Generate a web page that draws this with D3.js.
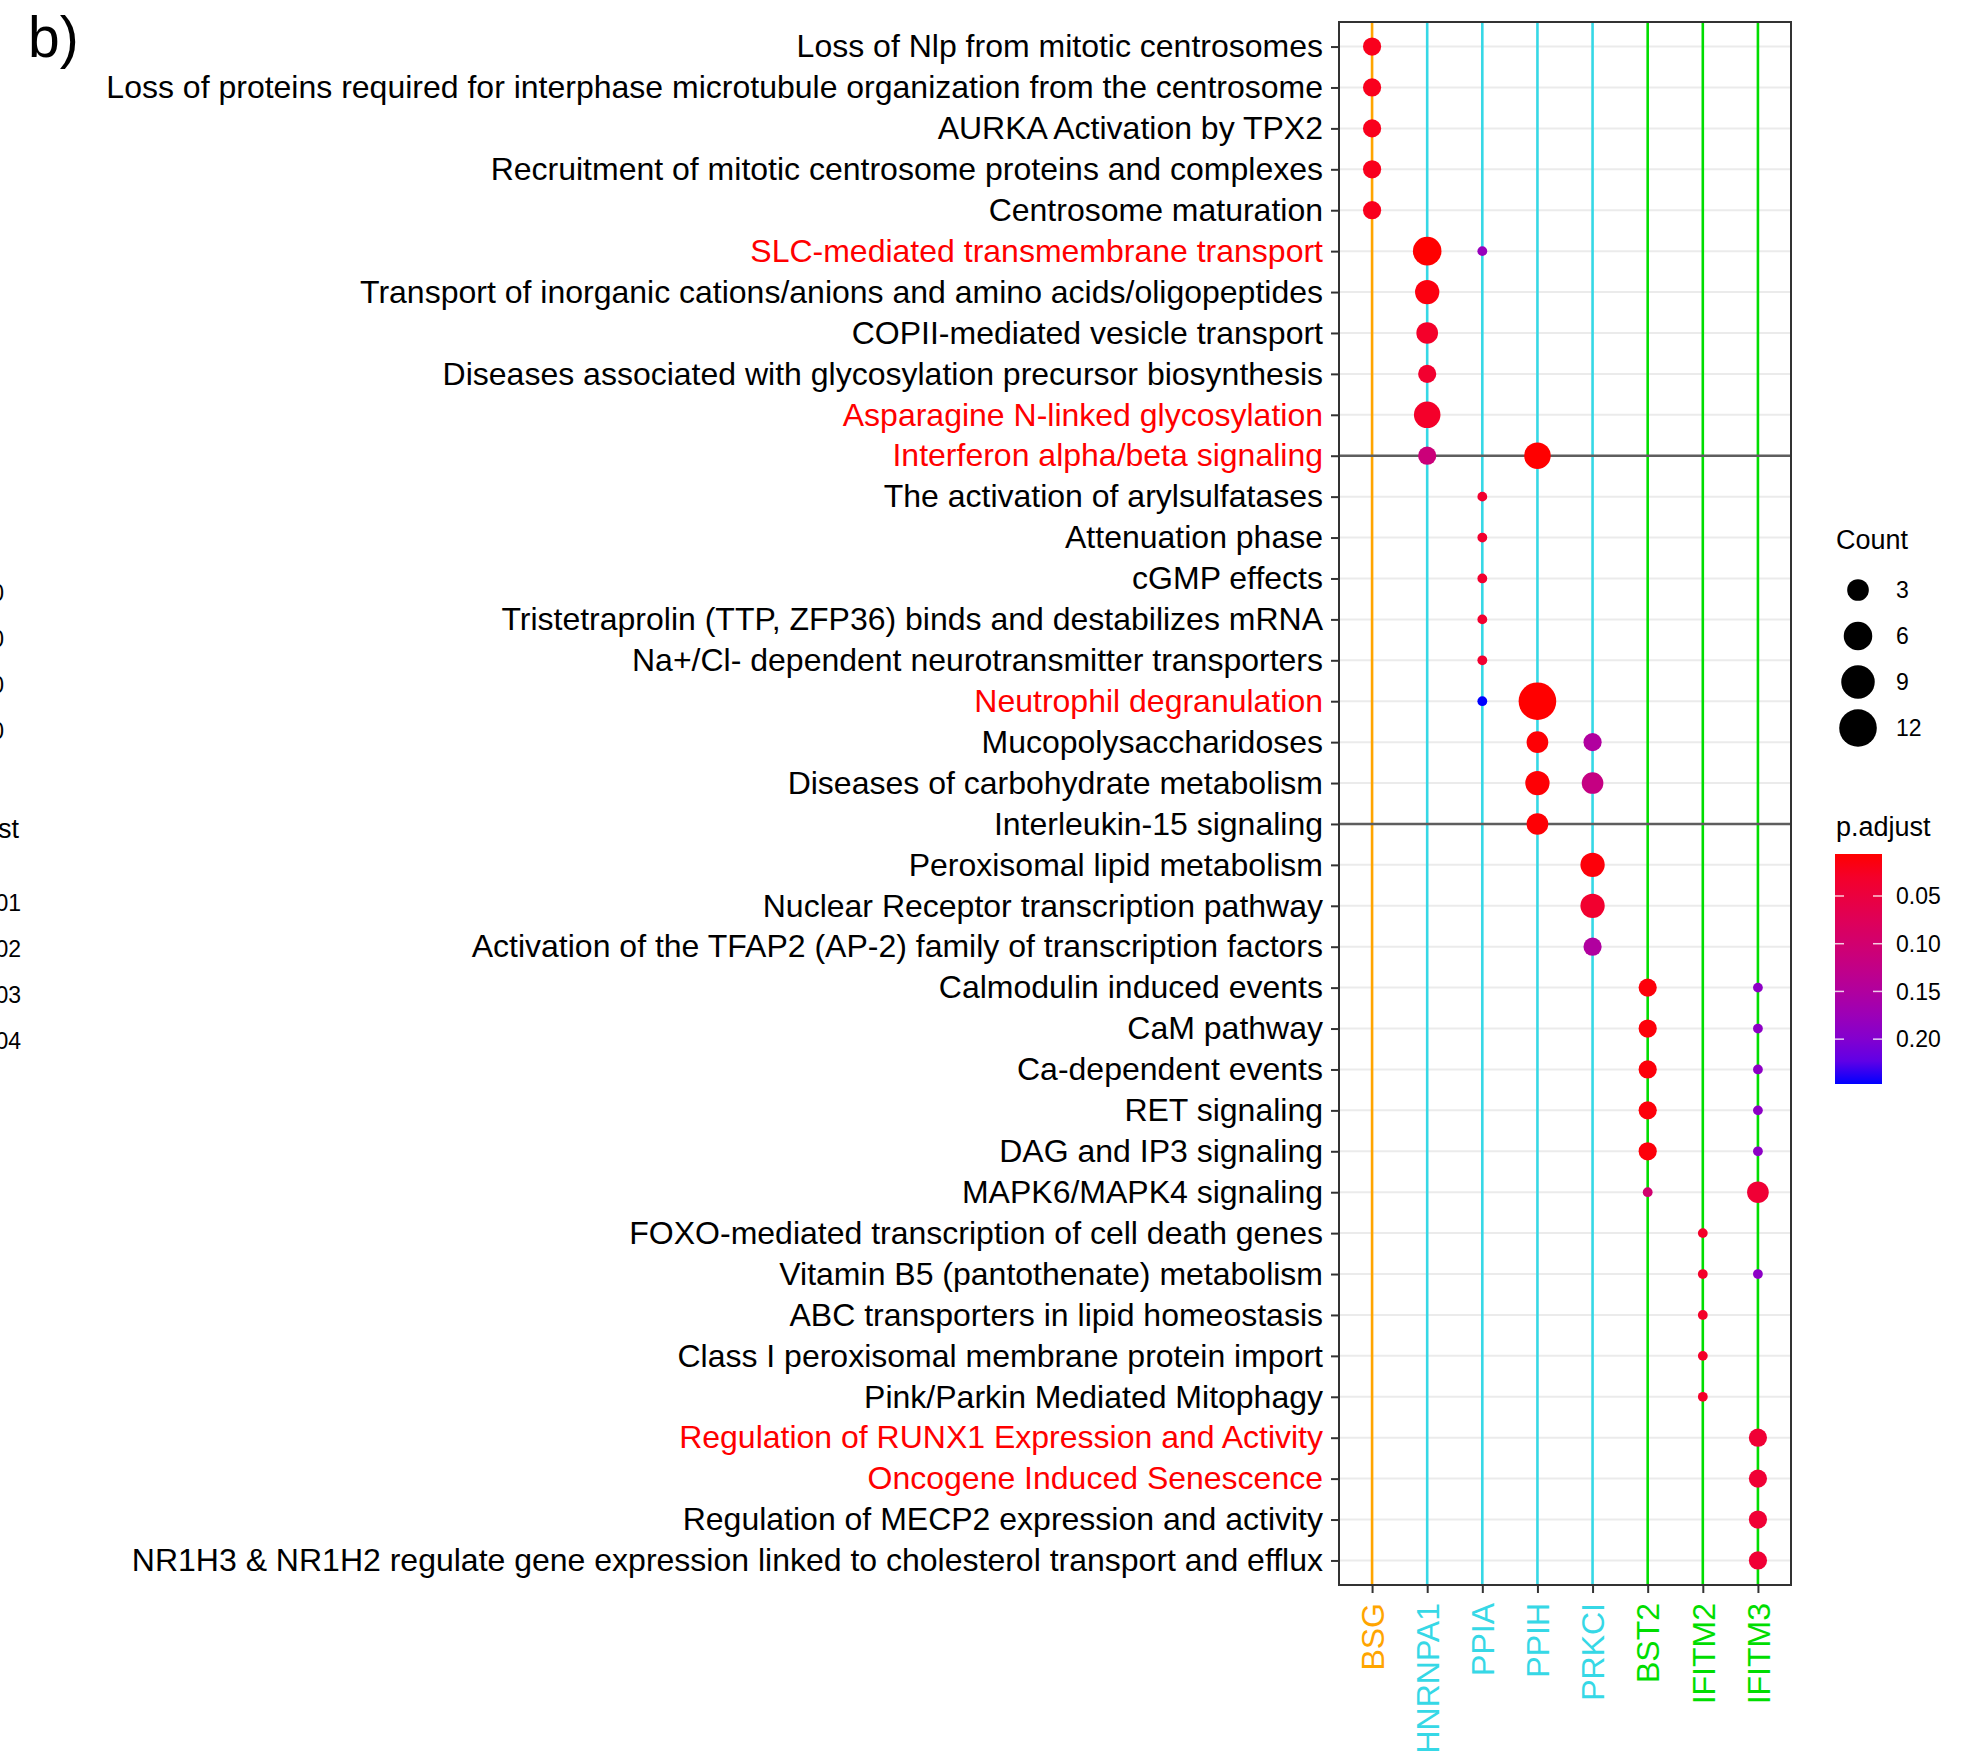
<!DOCTYPE html>
<html>
<head>
<meta charset="utf-8">
<script src="https://cdn.jsdelivr.net/npm/d3@7"></script>
<style>
  body { margin: 0; background: #fff; }
  text { font-family: "Liberation Sans", Arial, sans-serif; }
</style>
</head>
<body>
<script>
// genes on the x axis and the colour of each gene group
var genes = ["BSG", "HNRNPA1", "PPIA", "PPIH", "PRKCI", "BST2", "IFITM2", "IFITM3"];
var geneColors = ["#FFA500", "#36D8E6", "#36D8E6", "#36D8E6", "#36D8E6", "#00DD00", "#00DD00", "#00DD00"];

// reactome pathways, top to bottom
var pathways = [
  "Loss of Nlp from mitotic centrosomes",
  "Loss of proteins required for interphase microtubule organization from the centrosome",
  "AURKA Activation by TPX2",
  "Recruitment of mitotic centrosome proteins and complexes",
  "Centrosome maturation",
  "SLC-mediated transmembrane transport",
  "Transport of inorganic cations/anions and amino acids/oligopeptides",
  "COPII-mediated vesicle transport",
  "Diseases associated with glycosylation precursor biosynthesis",
  "Asparagine N-linked glycosylation",
  "Interferon alpha/beta signaling",
  "The activation of arylsulfatases",
  "Attenuation phase",
  "cGMP effects",
  "Tristetraprolin (TTP, ZFP36) binds and destabilizes mRNA",
  "Na+/Cl- dependent neurotransmitter transporters",
  "Neutrophil degranulation",
  "Mucopolysaccharidoses",
  "Diseases of carbohydrate metabolism",
  "Interleukin-15 signaling",
  "Peroxisomal lipid metabolism",
  "Nuclear Receptor transcription pathway",
  "Activation of the TFAP2 (AP-2) family of transcription factors",
  "Calmodulin induced events",
  "CaM pathway",
  "Ca-dependent events",
  "RET signaling",
  "DAG and IP3 signaling",
  "MAPK6/MAPK4 signaling",
  "FOXO-mediated transcription of cell death genes",
  "Vitamin B5 (pantothenate) metabolism",
  "ABC transporters in lipid homeostasis",
  "Class I peroxisomal membrane protein import",
  "Pink/Parkin Mediated Mitophagy",
  "Regulation of RUNX1 Expression and Activity",
  "Oncogene Induced Senescence",
  "Regulation of MECP2 expression and activity",
  "NR1H3 & NR1H2 regulate gene expression linked to cholesterol transport and efflux"
];

// pathways whose labels are highlighted in red
var highlighted = [
  "SLC-mediated transmembrane transport",
  "Asparagine N-linked glycosylation",
  "Interferon alpha/beta signaling",
  "Neutrophil degranulation",
  "Regulation of RUNX1 Expression and Activity",
  "Oncogene Induced Senescence"
];

// pathways marked with a dark horizontal line
var separators = ["Interferon alpha/beta signaling", "Interleukin-15 signaling"];

// hits per gene: [pathway index, Count, p.adjust]
var bsgHits     = [[0, 2, 0.02], [1, 2, 0.02], [2, 2, 0.02], [3, 2, 0.02], [4, 2, 0.02]];
var hnrnpa1Hits = [[5, 6, 0.006], [6, 4, 0.012], [7, 3, 0.03], [8, 2, 0.035], [9, 5, 0.03], [10, 2, 0.11]];
var ppiaHits    = [[5, 1, 0.18], [11, 1, 0.035], [12, 1, 0.035], [13, 1, 0.035], [14, 1, 0.035],
                   [15, 1, 0.035], [16, 1, 0.247]];
var ppihHits    = [[10, 5, 0.006], [16, 12, 0.006], [17, 3, 0.008], [18, 4, 0.008], [19, 3, 0.008]];
var prkciHits   = [[17, 2, 0.15], [18, 3, 0.12], [20, 4, 0.01], [21, 4, 0.035], [22, 2, 0.15]];
var bst2Hits    = [[23, 2, 0.01], [24, 2, 0.01], [25, 2, 0.01], [26, 2, 0.01], [27, 2, 0.01], [28, 1, 0.1]];
var ifitm2Hits  = [[29, 1, 0.03], [30, 1, 0.03], [31, 1, 0.03], [32, 1, 0.03], [33, 1, 0.03]];
var ifitm3Hits  = [[23, 1, 0.19], [24, 1, 0.19], [25, 1, 0.19], [26, 1, 0.19], [27, 1, 0.19], [28, 3, 0.04],
                   [30, 1, 0.19], [34, 2, 0.04], [35, 2, 0.04], [36, 2, 0.04], [37, 2, 0.04]];

// legend values
var countBreaks = [3, 6, 9, 12];
var padjBreaks = [0.05, 0.10, 0.15, 0.20];
var padjRange = [0.006, 0.247];
var countRange = [1, 12];

// clipped labels from the neighbouring panel on the left
var leftCountLabels = ["10", "20", "30", "40"];
var leftPadjLabels = ["0.001", "0.002", "0.003", "0.004"];

var W = 1977, H = 1757;
var panel = {left: 1339, right: 1791, top: 22, bottom: 1585};

var hitsByGene = [bsgHits, hnrnpa1Hits, ppiaHits, ppihHits, prkciHits, bst2Hits, ifitm2Hits, ifitm3Hits];
var dots = [];
hitsByGene.forEach(function(hits, g) {
  hits.forEach(function(h) {
    dots.push({gene: genes[g], pathway: pathways[h[0]], count: h[1], padj: h[2]});
  });
});

// scales
var x = d3.scalePoint().domain(genes).range([panel.left, panel.right]).padding(0.6);
var y = d3.scalePoint().domain(pathways).range([panel.top, panel.bottom]).padding(0.6);
var color = d3.scaleLinear().domain(padjRange).range(["red", "blue"]).interpolate(d3.interpolateLab);
var countT = d3.scaleLinear().domain(countRange).range([0, 1]);
var rScale = d3.scaleLinear().domain([0, 1]).range([4.9, 18.8]);
function radius(c) { return rScale(Math.sqrt(countT(c))); }
var geneColor = d3.scaleOrdinal().domain(genes).range(geneColors);

var svg = d3.select("body").append("svg")
    .attr("width", W)
    .attr("height", H);

// panel label
svg.append("text")
    .attr("x", 28).attr("y", 57)
    .attr("font-size", 57)
    .text("b)");

// grid
svg.append("g").selectAll("line")
    .data(pathways)
    .enter().append("line")
    .attr("x1", panel.left).attr("x2", panel.right)
    .attr("y1", function(d) { return y(d); })
    .attr("y2", function(d) { return y(d); })
    .attr("stroke", "#EBEBEB")
    .attr("stroke-width", 2);

// gene lines
svg.append("g").selectAll("line")
    .data(genes)
    .enter().append("line")
    .attr("x1", function(d) { return x(d); })
    .attr("x2", function(d) { return x(d); })
    .attr("y1", panel.top).attr("y2", panel.bottom)
    .attr("stroke", function(d) { return geneColor(d); })
    .attr("stroke-width", 2.6);

// separator lines
svg.append("g").selectAll("line")
    .data(separators)
    .enter().append("line")
    .attr("x1", panel.left).attr("x2", panel.right)
    .attr("y1", function(d) { return y(d); })
    .attr("y2", function(d) { return y(d); })
    .attr("stroke", "#5E5E5E")
    .attr("stroke-width", 2.6);

// dots
svg.append("g").selectAll("circle")
    .data(dots)
    .enter().append("circle")
    .attr("cx", function(d) { return x(d.gene); })
    .attr("cy", function(d) { return y(d.pathway); })
    .attr("r", function(d) { return radius(d.count); })
    .attr("fill", function(d) { return color(d.padj); });

// panel border
svg.append("rect")
    .attr("x", panel.left).attr("y", panel.top)
    .attr("width", panel.right - panel.left)
    .attr("height", panel.bottom - panel.top)
    .attr("fill", "none")
    .attr("stroke", "#333333")
    .attr("stroke-width", 2);

// y axis
var yAxis = svg.append("g")
    .attr("transform", "translate(" + panel.left + ",0)")
    .call(d3.axisLeft(y).tickSize(8).tickPadding(8));
yAxis.select(".domain").remove();
yAxis.selectAll(".tick line").attr("stroke", "#333333").attr("stroke-width", 2);
yAxis.selectAll(".tick text")
    .attr("font-size", 32)
    .attr("font-family", "Liberation Sans, Arial, sans-serif")
    .attr("fill", function(d) { return highlighted.indexOf(d) >= 0 ? "#FF0000" : "#000000"; });

// x axis
var xAxis = svg.append("g")
    .attr("transform", "translate(0," + panel.bottom + ")")
    .call(d3.axisBottom(x).tickSize(8).tickPadding(10));
xAxis.select(".domain").remove();
xAxis.selectAll(".tick line").attr("stroke", "#333333").attr("stroke-width", 2);
xAxis.selectAll(".tick text")
    .attr("font-size", 32)
    .attr("font-family", "Liberation Sans, Arial, sans-serif")
    .attr("transform", "rotate(-90)")
    .attr("text-anchor", "end")
    .attr("x", -18)
    .attr("y", 0)
    .attr("dy", "0.35em")
    .attr("fill", function(d) { return geneColor(d); });

// Count legend
var legX = 1836;
svg.append("text")
    .attr("x", legX).attr("y", 549)
    .attr("font-size", 27)
    .text("Count");
var countLeg = svg.append("g").selectAll("g")
    .data(countBreaks)
    .enter().append("g")
    .attr("transform", function(d, i) { return "translate(0," + (590 + i * 46) + ")"; });
countLeg.append("circle")
    .attr("cx", 1858)
    .attr("r", function(d) { return radius(d); })
    .attr("fill", "black");
countLeg.append("text")
    .attr("x", 1896).attr("dy", "0.36em")
    .attr("font-size", 23)
    .text(function(d) { return d; });

// p.adjust colour bar
svg.append("text")
    .attr("x", legX).attr("y", 836)
    .attr("font-size", 27)
    .text("p.adjust");

var barTop = 854, barBottom = 1084, barX = 1835, barW = 47;
var barY = d3.scaleLinear().domain(padjRange).range([barTop, barBottom]);
var grad = svg.append("defs").append("linearGradient")
    .attr("id", "padjGrad")
    .attr("x1", 0).attr("x2", 0).attr("y1", 0).attr("y2", 1);
grad.selectAll("stop")
    .data(d3.range(0, 1.0001, 0.1))
    .enter().append("stop")
    .attr("offset", function(d) { return d; })
    .attr("stop-color", function(d) { return color(padjRange[0] + d * (padjRange[1] - padjRange[0])); });
svg.append("rect")
    .attr("x", barX).attr("y", barTop)
    .attr("width", barW).attr("height", barBottom - barTop)
    .attr("fill", "url(#padjGrad)");

var barTicks = svg.append("g").selectAll("g")
    .data(padjBreaks)
    .enter().append("g")
    .attr("transform", function(d) { return "translate(0," + barY(d) + ")"; });
barTicks.append("line")
    .attr("x1", barX).attr("x2", barX + 9)
    .attr("stroke", "white").attr("stroke-opacity", 0.8).attr("stroke-width", 1.5);
barTicks.append("line")
    .attr("x1", barX + barW - 9).attr("x2", barX + barW)
    .attr("stroke", "white").attr("stroke-opacity", 0.8).attr("stroke-width", 1.5);
barTicks.append("text")
    .attr("x", 1896).attr("dy", "0.36em")
    .attr("font-size", 23)
    .text(function(d) { return d3.format(".2f")(d); });

// clipped text from the left panel
svg.append("g").selectAll("text")
    .data(leftCountLabels)
    .enter().append("text")
    .attr("x", 4)
    .attr("y", function(d, i) { return 593 + i * 46; })
    .attr("dy", "0.36em")
    .attr("text-anchor", "end")
    .attr("font-size", 23)
    .text(function(d) { return d; });
svg.append("text")
    .attr("x", 19).attr("y", 838)
    .attr("text-anchor", "end")
    .attr("font-size", 27)
    .text("p.adjust");
svg.append("g").selectAll("text")
    .data(leftPadjLabels)
    .enter().append("text")
    .attr("x", 21)
    .attr("y", function(d, i) { return 903 + i * 46; })
    .attr("dy", "0.36em")
    .attr("text-anchor", "end")
    .attr("font-size", 23)
    .text(function(d) { return d; });
</script>
</body>
</html>
